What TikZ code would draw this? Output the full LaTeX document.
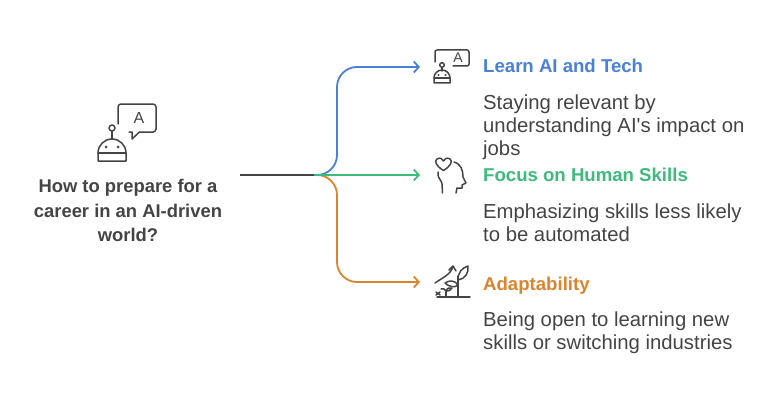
\documentclass[tikz,border=0pt]{standalone}
\usepackage{fontspec}
\setmainfont{Liberation Sans}[Ligatures=TeXOff]
\usetikzlibrary{arrows.meta}
\definecolor{cblue}{HTML}{4A80D6}
\definecolor{cgreen}{HTML}{3DBA7C}
\definecolor{corange}{HTML}{DA852D}
\definecolor{ctext}{HTML}{444444}
\definecolor{cicon}{HTML}{444444}
\tikzset{
  title/.style={anchor=base west,font=\fontsize{18.6}{22}\selectfont\bfseries,inner sep=0pt},
  desc/.style={anchor=base west,font=\fontsize{20.3}{23}\selectfont,text=ctext,inner sep=0pt},
  qline/.style={anchor=base,font=\fontsize{18.4}{22}\selectfont\bfseries,text=ctext,inner sep=0pt},
  tip/.style={-{Straight Barb[length=5pt,width=11pt,line width=1.8pt]}},
  branch/.style={line width=1.8pt,rounded corners=20pt,tip},
  icon/.style={draw=cicon,line width=1.5pt,line cap=round,line join=round},
}
\begin{document}
\begin{tikzpicture}[x=1pt,y=-1pt]
\useasboundingbox (0,0) rectangle (782,404);
% main question
\node[qline] (q1) at (128,192) {How to prepare for a};
\node[qline] (q2) at (128,217) {career in an AI-driven};
\node[qline] (q3) at (128,241) {world?};
% connectors
\coordinate (s) at (240,175);
\coordinate (j) at (314,175);
\coordinate (t1) at (420,67);
\coordinate (t2) at (420,175);
\coordinate (t3) at (420,282);
\draw[line width=1.8pt,draw=ctext] (s) -- (j);
\draw[branch,draw=cblue] (j) -- ++(23,0) |- (t1);
\draw[branch,draw=corange] (j) -- ++(23,0) |- (t3);
\draw[line width=1.8pt,draw=cgreen,tip] (j) -- (t2);
% titles and descriptions
\node[title,text=cblue] (h1) at (483,73) {Learn AI and Tech};
\node[desc] (d1a) at (483,109) {Staying relevant by};
\node[desc] (d1b) at (483,132) {understanding AI's impact on};
\node[desc] (d1c) at (483,155) {jobs};
\node[title,text=cgreen] (h2) at (483,181) {Focus on Human Skills};
\node[desc] (d2a) at (483,218) {Emphasizing skills less likely};
\node[desc] (d2b) at (483,241) {to be automated};
\node[title,text=corange] (h3) at (483,290) {Adaptability};
\node[desc] (d3a) at (483,326) {Being open to learning new};
\node[desc] (d3b) at (483,349) {skills or switching industries};
% left robot icon
\draw[icon,rounded corners=3pt] (118,124) -- (118,104) -- (156,104) -- (156,132) -- (139.5,132);
\draw[icon] (139.5,132) -- (132,139) -- (132,132) -- (129,132);
\node[font=\fontsize{16}{16}\selectfont,text=cicon,inner sep=0pt] (a0) at (139,118) {A};
\draw[icon] (112,128) circle[radius=3pt];
\draw[icon] (112,131) -- (112,139);
\draw[icon] (98,161) -- (98,153) arc[start angle=180,end angle=0,radius=14pt] -- (126,161) -- cycle;
\draw[icon] (98,153) -- (126,153);
\fill[cicon] (106,147) circle[radius=1.5pt] (118,147) circle[radius=1.5pt];
% icon 1
\draw[icon,rounded corners=2pt] (435,62) -- (435,50) -- (469,50) -- (469,66) -- (453,66);
\node[font=\fontsize{14}{14}\selectfont,text=cicon,inner sep=0pt] (a1) at (458,58) {A};
\draw[icon] (442,65) circle[radius=2.3pt];
\draw[icon] (442,67.3) -- (442,71);
\draw[icon] (434,83) -- (434,78) arc[start angle=180,end angle=0,radius=8pt] -- (450,83) -- cycle;
\draw[icon] (434,78) -- (450,78);
\fill[cicon] (438.5,75) circle[radius=1.2pt] (445.5,75) circle[radius=1.2pt];
% icon 2: head with heart
\draw[icon] (443.5,170.5) .. controls (436,166) and (434,161) .. (437,159) .. controls (440,157) and (443,159) .. (443.5,161) .. controls (444,159) and (447,157) .. (450,159) .. controls (453,161) and (451,166) .. (443.5,170.5);
\draw[icon] (454,162) .. controls (461,164) and (463,170) .. (463,177) -- (466,183) -- (462,185) -- (462,188) -- (457,188) -- (456,193);
\draw[icon] (438,172) -- (438,175) .. controls (438,178) and (442,181) .. (442,184) -- (442.5,193);
% icon 3: plant
\draw[icon] (437,297) -- (470,297);
\draw[icon] (458,297) -- (458,276);
\draw[icon] (458,280) .. controls (458,272) and (462,268) .. (468,266) .. controls (469,273) and (465,279) .. (458,280);
\draw[icon] (458,285) .. controls (455,280) and (449,280) .. (445,283) .. controls (449,287) and (455,288) .. (458,285);
\draw[icon] (446,297) -- (446,291);
\draw[icon] (446,291) .. controls (447,288) and (450,287) .. (452,288) .. controls (451,291) and (448,291) .. (446,291);
\draw[icon] (446,291) .. controls (445,289) and (443,288) .. (441,289);
\draw[icon] (435,283) .. controls (442,278) and (450,275) .. (453,267);
\draw[icon] (449,270) -- (453,266) -- (456,271);
\draw[icon] (436,292) -- (440,295) (440,292) -- (436,295);
\end{tikzpicture}
\end{document}
